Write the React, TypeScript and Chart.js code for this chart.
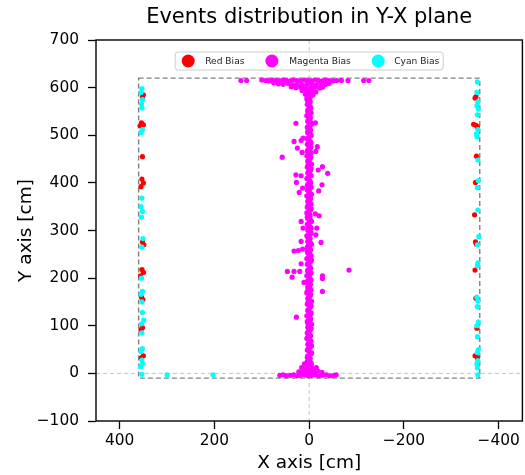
import React, { useEffect, useRef } from 'react';
import { Chart, registerables } from 'chart.js';

Chart.register(...registerables);

const TITLE = 'Events distribution in Y-X plane';
const X_LABEL = 'X axis [cm]';
const Y_LABEL = 'Y axis [cm]';

const xTicks = [400, 200, 0, -200, -400];
const yTicks = [-100, 0, 100, 200, 300, 400, 500, 600, 700];
const xRange = [-450, 450];
const yRange = [-100, 700];
const boxX = [-360, 360];
const boxY = [-10, 620];

const seriesNames = ['Red Bias', 'Magenta Bias', 'Cyan Bias'];
const seriesColors = ['#ff0000', '#ff00ff', '#00ffff'];

const redLeft: [number, number][] = [
  [352, 580], [350, 585], [354, 526], [350, 522], [357, 520], [352, 455], [353, 408], [350, 400],
  [355, 392], [352, 276], [349, 270], [353, 218], [350, 212], [356, 205], [354, 160], [351, 155],
  [352, 96], [355, 92], [350, 37], [354, 33],
];
const redRight: [number, number][] = [
  [-352, 581], [-350, 578], [-347, 523], [-352, 521], [-355, 518], [-353, 456], [-351, 401],
  [-349, 333], [-351, 276], [-353, 271], [-350, 217], [-352, 158], [-354, 95], [-350, 37], [-355, 33],
];
const cyanLeft: [number, number][] = [
  [353, 598], [355, 590], [352, 575], [354, 565], [353, 557], [352, 512], [355, 506], [353, 368],
  [355, 350], [352, 340], [354, 328], [351, 283], [353, 265], [354, 200], [352, 172], [355, 166],
  [353, 150], [352, 128], [349, 112], [354, 104], [353, 85], [352, 52], [355, 46], [353, 28],
  [352, 20], [356, 14], [353, -2], [300, -3], [203, -3],
];
const cyanRight: [number, number][] = [
  [-355, 612], [-354, 590], [-356, 570], [-354, 562], [-357, 555], [-355, 543], [-356, 512],
  [-353, 503], [-354, 497], [-356, 448], [-357, 405], [-355, 390], [-356, 343], [-358, 287],
  [-355, 270], [-356, 232], [-355, 226], [-354, 160], [-356, 152], [-355, 140], [-357, 108],
  [-354, 100], [-355, 77], [-357, 50], [-355, 44], [-356, 27], [-354, 20], [-355, 12], [-356, -3],
];

const magentaColumn: [number, number][] = [
  [-2, 5], [3, 10], [-4, 16], [1, 22], [-1, 28], [4, 34], [-3, 40], [0, 46], [2, 52], [-5, 58],
  [1, 64], [-2, 70], [3, 76], [-1, 82], [2, 88], [-4, 94], [0, 100], [3, 106], [-2, 112], [1, 118],
  [-3, 124], [2, 130], [0, 136], [-4, 142], [3, 148], [-1, 154], [1, 160], [-3, 166], [4, 172],
  [-2, 178], [0, 184], [2, 190], [-4, 196], [1, 202], [-1, 208], [3, 214], [-3, 220], [0, 226],
  [2, 232], [-5, 238], [1, 244], [-2, 250], [4, 256], [-1, 262], [2, 268], [-3, 274], [0, 280],
  [3, 286], [-2, 292], [1, 298], [-4, 304], [2, 310], [0, 316], [-3, 322], [4, 328], [-1, 334],
  [1, 340], [-4, 346], [3, 352], [-2, 358], [0, 364], [2, 370], [-5, 376], [1, 382], [-1, 388],
  [4, 394], [-3, 400], [0, 406], [2, 412], [-2, 418], [1, 424], [-4, 430], [3, 436], [-1, 442],
  [2, 448], [-3, 454], [0, 460], [4, 466], [-2, 472], [1, 478], [-4, 484], [2, 490], [0, 496],
  [-3, 502], [3, 508], [-1, 514], [1, 520], [-4, 526], [2, 532], [-2, 538], [0, 544], [3, 550],
  [-3, 556], [1, 562], [-1, 568], [4, 574], [-2, 580], [0, 586], [2, 592], [-4, 598],
];
const magentaColumn2: [number, number][] = [
  [3, 2], [-3, 8], [2, 13], [-4, 19], [4, 25], [-2, 31], [3, 37], [-5, 43], [4, 49], [-2, 55],
  [3, 61], [-4, 67], [5, 73], [-3, 79], [4, 85], [-2, 91], [3, 97], [-5, 103], [4, 109], [-3, 115],
  [5, 121], [-4, 127], [3, 133], [-2, 139], [4, 145], [-5, 151], [3, 157], [-2, 163], [5, 169],
  [-4, 175], [3, 181], [-3, 187], [4, 193], [-2, 199], [5, 205], [-4, 211], [3, 217], [-2, 223],
  [4, 229], [-3, 235], [5, 241], [-4, 247], [3, 253], [-3, 259], [4, 265], [-5, 271], [3, 277],
  [-2, 283], [5, 289], [-4, 295], [3, 301], [-3, 307], [4, 313], [-5, 319], [3, 325], [-2, 331],
  [5, 337], [-3, 343], [4, 349], [-4, 355], [3, 361], [-3, 367], [5, 373], [-2, 379], [4, 385],
  [-4, 391], [3, 397], [-2, 403], [5, 409], [-4, 415], [3, 421], [-3, 427], [4, 433], [-5, 439],
  [3, 445], [-2, 451], [5, 457], [-4, 463], [3, 469], [-3, 475], [4, 481], [-2, 487], [5, 493],
  [-4, 499], [3, 505], [-3, 511], [4, 517], [-5, 523], [3, 529], [-2, 535], [5, 541], [-4, 547],
  [3, 553], [-3, 559], [4, 565], [-2, 571], [5, 577], [-4, 583], [3, 589], [-3, 595],
];
const magentaTop: [number, number][] = [
  [144, 615], [132, 615], [100, 616], [92, 615], [85, 614], [78, 616], [70, 615], [62, 614],
  [55, 616], [48, 615], [40, 614], [33, 616], [26, 615], [18, 614], [10, 616], [3, 615], [-5, 614],
  [-12, 616], [-20, 615], [-28, 614], [-35, 616], [-42, 615], [-50, 614], [-58, 615], [-68, 615],
  [-82, 615], [-115, 615], [-126, 615],
  [75, 610], [65, 608], [55, 607], [45, 609], [35, 606], [25, 608], [15, 605], [5, 607], [-5, 609],
  [-15, 606], [-25, 608], [-35, 607], [-42, 609],
  [38, 602], [28, 600], [18, 601], [8, 599], [-3, 600], [-12, 602], [-22, 599], [-28, 601],
  [15, 594], [5, 592], [-6, 593], [-14, 591], [8, 586], [-8, 585], [3, 580],
];
const magentaBottom: [number, number][] = [
  [62, -4], [55, -3], [48, -5], [40, -4], [33, -3], [25, -5], [18, -4], [10, -3], [3, -5], [-5, -4],
  [-12, -3], [-20, -5], [-28, -4], [-36, -3], [-44, -5], [-52, -4], [-57, -3],
  [22, 3], [14, 5], [6, 2], [-2, 4], [-10, 3], [-18, 5], [-27, 2],
  [16, 12], [8, 10], [-1, 11], [-8, 9], [-15, 12],
  [10, 20], [2, 18], [-4, 22],
];
const magentaScatter: [number, number][] = [
  [28, 525], [32, 487], [17, 489], [13, 494], [25, 473], [15, 464], [57, 454], [-17, 476], [-14, 466],
  [-13, 526], [-28, 434], [-19, 427], [-39, 420], [28, 417], [17, 415], [27, 401], [-27, 396],
  [14, 389], [21, 380], [-20, 383], [-13, 335], [-21, 331], [17, 319], [13, 305], [-16, 305],
  [-14, 291], [17, 277], [-25, 275], [32, 257], [23, 258], [14, 261], [17, 230], [46, 214],
  [32, 214], [20, 214], [36, 202], [11, 191], [-28, 205], [-28, 199], [-84, 217], [-28, 172],
  [27, 118],
];

const redPoints = [...redLeft, ...redRight];
const magentaPoints = [...magentaColumn, ...magentaColumn2, ...magentaTop, ...magentaBottom, ...magentaScatter];
const cyanPoints = [...cyanLeft, ...cyanRight];

const FONT = 'DejaVu Sans';

const fmt = (v: number) => (v < 0 ? '\u2212' + Math.abs(v) : String(v));

const decorPlugin = {
  id: 'decor',
  beforeDatasetsDraw(chart: any) {
    const { ctx, chartArea: a, scales } = chart;
    const xs = scales.x;
    const ys = scales.y;
    ctx.save();
    ctx.strokeStyle = '#c4c4c4';
    ctx.lineWidth = 1;
    ctx.setLineDash([4, 3]);
    ctx.beginPath();
    const x0 = xs.getPixelForValue(0);
    const y0 = ys.getPixelForValue(0);
    ctx.moveTo(x0, a.top);
    ctx.lineTo(x0, a.bottom);
    ctx.moveTo(a.left, y0);
    ctx.lineTo(a.right, y0);
    ctx.stroke();
    ctx.strokeStyle = '#808080';
    ctx.lineWidth = 1.4;
    ctx.setLineDash([5, 3]);
    const bx1 = xs.getPixelForValue(boxX[1]);
    const bx2 = xs.getPixelForValue(boxX[0]);
    const by1 = ys.getPixelForValue(boxY[1]);
    const by2 = ys.getPixelForValue(boxY[0]);
    ctx.strokeRect(Math.min(bx1, bx2), Math.min(by1, by2), Math.abs(bx2 - bx1), Math.abs(by2 - by1));
    ctx.restore();
  },
  afterDatasetsDraw(chart: any) {
    const { ctx, chartArea: a } = chart;
    ctx.save();
    ctx.strokeStyle = '#000';
    ctx.lineWidth = 1.4;
    ctx.setLineDash([]);
    ctx.strokeRect(a.left, a.top, a.right - a.left, a.bottom - a.top);
    const cx = (a.left + a.right) / 2;
    const bw = 268;
    const bh = 18;
    const bx = cx - bw / 2;
    const by = a.top + 12;
    ctx.fillStyle = 'rgba(255,255,255,0.85)';
    ctx.strokeStyle = '#cccccc';
    ctx.lineWidth = 1;
    ctx.beginPath();
    (ctx as any).roundRect(bx, by, bw, bh, 3);
    ctx.fill();
    ctx.stroke();
    const circleOff = [13, 96.7, 203];
    const textOff = [30, 114, 219];
    ctx.font = `9.1px "${FONT}"`;
    ctx.textBaseline = 'middle';
    ctx.textAlign = 'left';
    for (let i = 0; i < seriesNames.length; i++) {
      ctx.fillStyle = seriesColors[i];
      ctx.beginPath();
      ctx.arc(bx + circleOff[i], by + bh / 2, 6.5, 0, Math.PI * 2);
      ctx.fill();
      ctx.fillStyle = '#222';
      ctx.fillText(seriesNames[i], bx + textOff[i], by + bh / 2 + 0.5);
    }
    ctx.fillStyle = '#000';
    ctx.textAlign = 'center';
    ctx.textBaseline = 'middle';
    ctx.font = `21px "${FONT}"`;
    ctx.fillText(TITLE, cx, 18);
    ctx.font = `18.5px "${FONT}"`;
    ctx.fillText(X_LABEL, cx, 463);
    ctx.save();
    ctx.translate(26, (a.top + a.bottom) / 2);
    ctx.rotate(-Math.PI / 2);
    ctx.fillText(Y_LABEL, 0, 0);
    ctx.restore();
    ctx.restore();
  },
};

export default function App() {
  const ref = useRef<HTMLCanvasElement | null>(null);
  useEffect(() => {
    if (!ref.current) return;
    const ds = (label: string, data: [number, number][], color: string, order: number) => ({
      label,
      data: data.map(([x, y]) => ({ x, y })),
      backgroundColor: color,
      borderColor: color,
      borderWidth: 0,
      pointRadius: 2.6,
      pointHoverRadius: 2.6,
      order,
    });
    const chart = new Chart(ref.current, {
      type: 'scatter',
      data: {
        datasets: [
          ds(seriesNames[0], redPoints, seriesColors[0], 2),
          ds(seriesNames[1], magentaPoints, seriesColors[1], 1),
          ds(seriesNames[2], cyanPoints, seriesColors[2], 0),
        ],
      },
      options: {
        animation: false,
        responsive: false,
        devicePixelRatio: 1,
        layout: { padding: { top: 40, right: 1, left: 0, bottom: 0 } },
        plugins: { legend: { display: false }, title: { display: false }, tooltip: { enabled: false } },
        scales: {
          x: {
            type: 'linear',
            min: xRange[0],
            max: xRange[1],
            reverse: true,
            afterBuildTicks: (axis: any) => {
              axis.ticks = xTicks.map((v) => ({ value: v }));
            },
            afterFit: (axis: any) => {
              axis.height = 54;
            },
            grid: { drawOnChartArea: false, drawTicks: true, tickLength: 8, tickColor: '#000', tickWidth: 1.3 },
            border: { display: false },
            ticks: {
              padding: 3,
              color: '#000',
              font: { family: FONT, size: 15.4 },
              callback: (v: any) => fmt(Number(v)),
              maxRotation: 0,
              autoSkip: false,
            },
          },
          y: {
            type: 'linear',
            min: yRange[0],
            max: yRange[1],
            afterBuildTicks: (axis: any) => {
              axis.ticks = yTicks.map((v) => ({ value: v }));
            },
            afterFit: (axis: any) => {
              axis.width = 96;
            },
            grid: { drawOnChartArea: false, drawTicks: true, tickLength: 8, tickColor: '#000', tickWidth: 1.3 },
            border: { display: false },
            ticks: {
              padding: 9,
              color: '#000',
              font: { family: FONT, size: 15.4 },
              callback: (v: any) => fmt(Number(v)),
              autoSkip: false,
            },
          },
        },
      },
      plugins: [decorPlugin],
    } as any);
    return () => chart.destroy();
  }, []);
  return (
    <div style={{ position: 'fixed', left: 0, top: 0, width: 525, height: 475, background: '#fff' }}>
      <canvas ref={ref} width={525} height={475} style={{ display: 'block', width: 525, height: 475 }} />
    </div>
  );
}
